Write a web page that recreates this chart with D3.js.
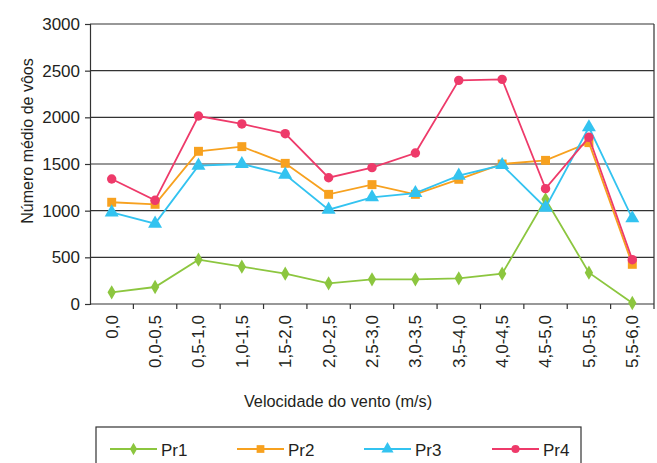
<!DOCTYPE html>
<html>
<head>
<meta charset="utf-8">
<script src="https://cdn.jsdelivr.net/npm/d3@7"></script>
<style>
  body { margin: 0; background: #fff; }
  text { font-family: "Liberation Sans", Arial, sans-serif; fill: #231f20; }
</style>
</head>
<body>
<div id="chart"></div>
<script>
// wind speed classes (m/s)
const categories = ["0,0", "0,0-0,5", "0,5-1,0", "1,0-1,5", "1,5-2,0", "2,0-2,5", "2,5-3,0",
  "3,0-3,5", "3,5-4,0", "4,0-4,5", "4,5-5,0", "5,0-5,5", "5,5-6,0"];

const pr1 = [125, 182, 475, 400, 325, 221, 264, 264, 275, 325, 1121, 336, 11];
const pr2 = [1090, 1068, 1636, 1686, 1507, 1175, 1279, 1175, 1336, 1500, 1539, 1729, 425];
const pr3 = [982, 861, 1482, 1500, 1386, 1011, 1143, 1189, 1375, 1489, 1032, 1893, 918];
const pr4 = [1339, 1111, 2014, 1929, 1825, 1353, 1461, 1618, 2396, 2407, 1236, 1786, 475];

const yTicks = [0, 500, 1000, 1500, 2000, 2500, 3000];

const series = [
  { name: "Pr1", values: pr1, color: "#8cc63f", symbol: d3.symbolDiamond, size: 60 },
  { name: "Pr2", values: pr2, color: "#f7a11f", symbol: d3.symbolSquare, size: 80 },
  { name: "Pr3", values: pr3, color: "#33c3f0", symbol: d3.symbolTriangle, size: 85 },
  { name: "Pr4", values: pr4, color: "#ee3a6a", symbol: d3.symbolCircle, size: 70 }
];

const W = 657, H = 463;
const m = { left: 90, right: 654, top: 24, bottom: 304 };

const svg = d3.select("#chart").append("svg")
  .attr("width", W)
  .attr("height", H);

const x = d3.scaleBand()
  .domain(categories)
  .range([m.left, m.right]);

const y = d3.scaleLinear()
  .domain([0, 3000])
  .range([m.bottom, m.top]);

// gridlines
svg.append("g")
  .selectAll("line")
  .data(yTicks.filter(t => t > 0))
  .join("line")
  .attr("x1", m.left)
  .attr("x2", m.right)
  .attr("y1", d => y(d))
  .attr("y2", d => y(d))
  .attr("stroke", "#333")
  .attr("stroke-width", 1.2);

// right border
svg.append("line")
  .attr("x1", m.right).attr("x2", m.right)
  .attr("y1", m.top).attr("y2", m.bottom)
  .attr("stroke", "#333")
  .attr("stroke-width", 1.2);

// y axis
const yAxis = svg.append("g")
  .attr("transform", `translate(${m.left},0)`)
  .call(d3.axisLeft(y).tickValues(yTicks).tickSize(5).tickPadding(5).tickFormat(d3.format("d")));
yAxis.selectAll("text").style("font-size", "17px");
yAxis.selectAll("line, path").attr("stroke", "#333").attr("stroke-width", 1.2);

// x axis: ticks at category boundaries
const xAxis = svg.append("g")
  .attr("transform", `translate(0,${m.bottom})`);
xAxis.append("line")
  .attr("x1", m.left).attr("x2", m.right)
  .attr("stroke", "#333").attr("stroke-width", 1.2);
xAxis.selectAll(".tk")
  .data(categories)
  .join("line")
  .attr("class", "tk")
  .attr("x1", d => x(d) + x.bandwidth())
  .attr("x2", d => x(d) + x.bandwidth())
  .attr("y1", 0).attr("y2", 5)
  .attr("stroke", "#333").attr("stroke-width", 1.2);
xAxis.selectAll(".lbl")
  .data(categories)
  .join("text")
  .attr("class", "lbl")
  .attr("transform", d => `translate(${x(d) + x.bandwidth() / 2},11) rotate(-90)`)
  .attr("text-anchor", "end")
  .attr("dy", "0.35em")
  .style("font-size", "17px")
  .text(d => d);

// axis titles
svg.append("text")
  .attr("transform", "translate(33,141) rotate(-90)")
  .attr("text-anchor", "middle")
  .style("font-size", "16px")
  .text("Número médio de vôos");

svg.append("text")
  .attr("x", 338)
  .attr("y", 407)
  .attr("text-anchor", "middle")
  .style("font-size", "16.3px")
  .text("Velocidade do vento (m/s)");

// lines and markers
const line = d3.line()
  .x((d, i) => x(categories[i]) + x.bandwidth() / 2)
  .y(d => y(d));

series.forEach(s => {
  svg.append("path")
    .datum(s.values)
    .attr("fill", "none")
    .attr("stroke", s.color)
    .attr("stroke-width", 1.8)
    .attr("d", line);
  svg.append("g")
    .selectAll("path")
    .data(s.values)
    .join("path")
    .attr("transform", (d, i) => `translate(${x(categories[i]) + x.bandwidth() / 2},${y(d)})`)
    .attr("d", d3.symbol().type(s.symbol).size(s.size))
    .attr("fill", s.color);
});

// legend
svg.append("rect")
  .attr("x", 96).attr("y", 427)
  .attr("width", 485).attr("height", 60)
  .attr("fill", "none")
  .attr("stroke", "#333")
  .attr("stroke-width", 1.2);

const legendX = [110, 237, 364, 492];
series.forEach((s, i) => {
  const g = svg.append("g").attr("transform", `translate(${legendX[i]},449)`);
  g.append("line")
    .attr("x1", 0).attr("x2", 47)
    .attr("stroke", s.color).attr("stroke-width", 1.8);
  g.append("path")
    .attr("transform", "translate(23.5,0)")
    .attr("d", d3.symbol().type(s.symbol).size(s.size * 0.75))
    .attr("fill", s.color);
  g.append("text")
    .attr("x", 51)
    .attr("y", 7)
    .style("font-size", "17px")
    .text(s.name);
});
</script>
</body>
</html>
